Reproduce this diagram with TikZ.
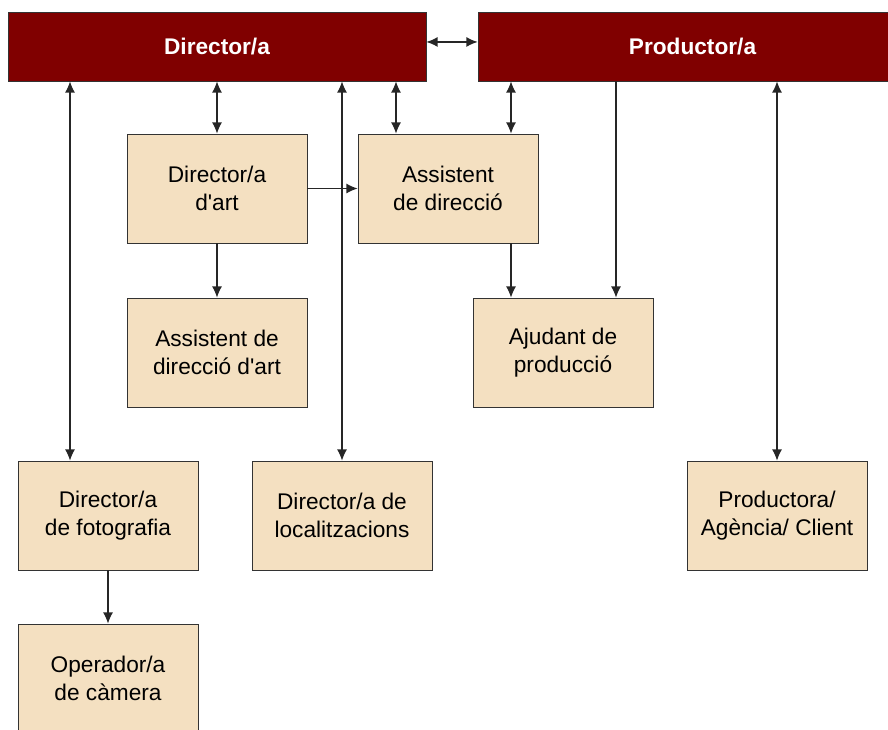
\documentclass[tikz,border=0pt]{standalone}
\usepackage{fontspec}
\setmainfont{Liberation Sans}
\usetikzlibrary{arrows.meta}

\definecolor{head-red}{HTML}{800000}
\definecolor{role-tan}{HTML}{F4E0C1}
\definecolor{edge-grey}{HTML}{333333}

\begin{document}
\begin{tikzpicture}[x = 0.75pt, y = -0.75pt]
    \tikzset{
        head-box/.style = {
            draw = edge-grey, fill = head-red, text = white,
            font = \fontsize{17}{20}\selectfont\bfseries,
            minimum height = 51.75pt, inner sep = 0pt},
        role-box/.style = {
            draw = edge-grey, fill = role-tan, align = center,
            font = \fontsize{17}{20.5}\selectfont,
            minimum width = 135pt, minimum height = 81.75pt, inner sep = 0pt},
        two-way/.style = {
            {Latex[length = 8.5pt, width = 7.5pt]}-{Latex[length = 8.5pt, width = 7.5pt]},
            line width = 1.1pt, black!85},
        one-way/.style = {
            -{Latex[length = 8.5pt, width = 7.5pt]},
            line width = 1.1pt, black!85}
    }

    \clip (0, 0) rectangle (888, 729);
    \useasboundingbox (0, 0) rectangle (888, 729);

    % top row
    \node[head-box, minimum width = 313.5pt] (dir) at (217, 46.5) {Director/a};
    \node[head-box, minimum width = 321.75pt] (prod) at (692.5, 46.5) {Productor/a};

    % boxes
    \node[role-box] (art) at (217, 188.5) {Director/a\\d\textquotesingle art};
    \node[role-box] (asd) at (448, 188.5) {Assistent\\de direcció};
    \node[role-box] (ada) at (217, 352.5) {Assistent de\\direcció d\textquotesingle art};
    \node[role-box] (aju) at (563, 352.5) {Ajudant de\\producció};
    \node[role-box] (fot) at (108, 515.5) {Director/a\\de fotografia};
    \node[role-box] (loc) at (342, 515.5) {Director/a de\\localitzacions};
    \node[role-box] (pra) at (777, 515.5) {Productora/\\Agència/ Client};
    \node[role-box] (opc) at (108, 678.5) {Operador/a\\de càmera};

    % connectors
    \draw[two-way] ([yshift = 3.4pt]dir.east) -- ([yshift = 3.4pt]prod.west);
    \draw[two-way] (art.north |- dir.south) -- (art.north);
    \draw[two-way] ([xshift = -28.5pt]fot.north |- dir.south) -- ([xshift = -28.5pt]fot.north);
    \draw[two-way] (loc.north |- dir.south) -- (loc.north);
    \draw[two-way] ([xshift = -39pt]asd.north |- dir.south) -- ([xshift = -39pt]asd.north);
    \draw[two-way] ([xshift = 47.25pt]asd.north |- prod.south) -- ([xshift = 47.25pt]asd.north);
    \draw[one-way] ([xshift = 39.75pt]aju.north |- prod.south) -- ([xshift = 39.75pt]aju.north);
    \draw[two-way] (pra.north |- prod.south) -- (pra.north);
    \draw[one-way] (art.east) -- (asd.west);
    \draw[one-way] (art) -- (ada);
    \draw[one-way] ([xshift = 47.25pt]asd.south) -- ([xshift = 47.25pt]asd.south |- aju.north);
    \draw[one-way] (fot) -- (opc);
\end{tikzpicture}
\end{document}
